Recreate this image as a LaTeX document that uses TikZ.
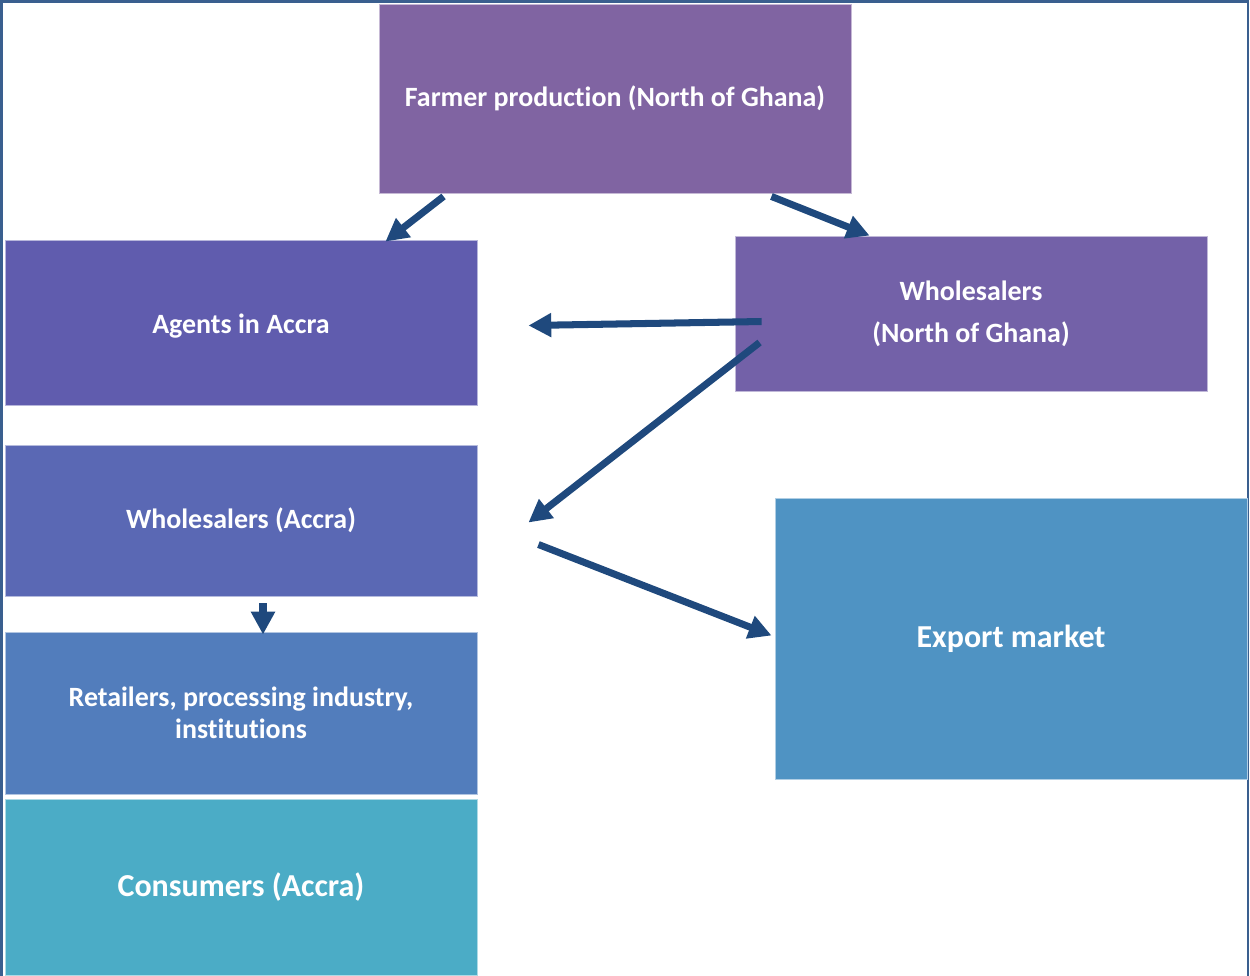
\documentclass[tikz,border=0pt]{standalone}
\usepackage{fontspec}
\setmainfont{Carlito}[Ligatures=NoCommon]
\usetikzlibrary{arrows.meta,fit,calc}

\definecolor{farmerc}{HTML}{8064A2}
\definecolor{agentc}{HTML}{605CAE}
\definecolor{wnorthc}{HTML}{7361A8}
\definecolor{waccrac}{HTML}{5A68B4}
\definecolor{retailc}{HTML}{527DBC}
\definecolor{consumc}{HTML}{4BACC6}
\definecolor{exportc}{HTML}{4F93C3}
\definecolor{arrowc}{HTML}{1F497D}
\definecolor{framec}{HTML}{3A5F8F}

\begin{document}
\begin{tikzpicture}[x=0.02cm, y=-0.02cm,
  box/.style={rectangle, inner sep=0pt, draw=white!55!#1, fill=#1, line width=0.5pt},
  boxtext/.style={text=white, font=\bfseries\fontsize{15.9}{18}\selectfont, align=center},
  bigtext/.style={text=white, font=\bfseries\fontsize{18.2}{21}\selectfont, align=center},
  flow/.style={draw=arrowc, line width=4pt,
    -{Triangle[length=13pt, width=13pt]}}
]
\useasboundingbox (0,0) rectangle (1250,975);

% outer frame
\draw[framec, line width=1.2pt] (1.5,980) -- (1.5,1.5) -- (1248,1.5) -- (1248,980);

% stages of the chain
\node[box=farmerc, fit={(379,4) (851,193)},
  label={[boxtext]center:Farmer production (North of Ghana)}] (farmer) {};
\node[box=agentc, fit={(5,240) (477,405)},
  label={[boxtext, yshift=-2]center:Agents in Accra}] (agents) {};
\node[box=wnorthc, fit={(735,236) (1207,391)},
  label={[boxtext]center:{Wholesalers\\[6pt](North of Ghana)}}] (wnorth) {};
\node[box=waccrac, fit={(5,445) (477,596)},
  label={[boxtext]center:Wholesalers (Accra)}] (waccra) {};
\node[box=retailc, fit={(5,632) (477,794)},
  label={[boxtext]center:{Retailers, processing industry,\\institutions}}] (retail) {};
\node[box=consumc, fit={(5,799) (477,975)},
  label={[bigtext]center:Consumers (Accra)}] (consum) {};
\node[box=exportc, fit={(775,498) (1247,779)},
  label={[bigtext]center:Export market}] (export) {};

% connector end points
\coordinate (f1) at ($(farmer.south west)+(65,3)$);
\coordinate (a1) at ($(agents.north east)+(-92,2)$);
\coordinate (f2) at ($(farmer.south east)+(-80,3)$);
\coordinate (w2) at ($(wnorth.north west)+(135,0)$);
\coordinate (w3) at ($(wnorth.west)+(27,8)$);
\coordinate (a3) at ($(agents.east)+(51,3)$);
\coordinate (w4) at ($(wnorth.west)+(25,29)$);
\coordinate (c4) at ($(waccra.east)+(51,2)$);
\coordinate (c5) at ($(waccra.east)+(61,24)$);
\coordinate (e5) at ($(export.west)+(-3,-3)$);
\coordinate (d1) at ($(waccra.south)+(22,7)$);
\coordinate (d2) at ($(retail.north)+(22,3)$);

% flows
\draw[flow] (f1) -- (a1);
\draw[flow] (f2) -- (w2);
\draw[flow] (w3) -- (a3);
\draw[flow] (w4) -- (c4);
\draw[flow] (c5) -- (e5);
\draw[flow] (d1) -- (d2);
\end{tikzpicture}
\end{document}
